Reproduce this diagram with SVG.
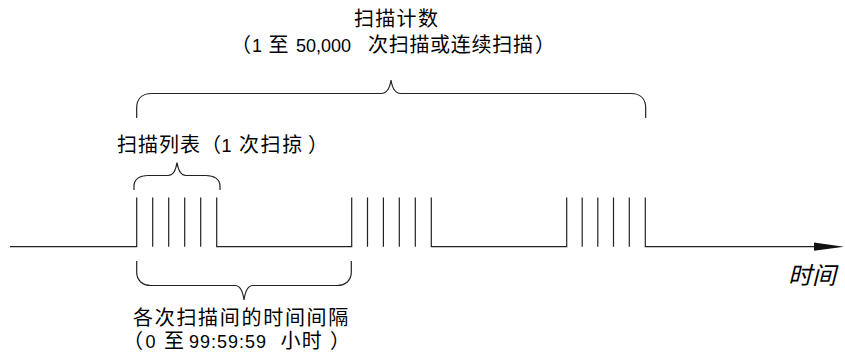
<svg xmlns="http://www.w3.org/2000/svg" width="845" height="362" viewBox="0 0 845 362">
<style>
  .ln { fill: none; stroke: #222; stroke-width: 1.2; }
  .t { font-family: "Liberation Sans", "Noto Sans CJK SC", sans-serif; font-size: 18px; fill: #000; }
  .c { font-family: "Noto Sans CJK SC", sans-serif; font-size: 20px; letter-spacing: 1.2px; }
  .it { font-family: "Noto Sans CJK SC", sans-serif; font-size: 24px; font-style: italic; fill: #000; }
</style>
<rect width="845" height="362" fill="#fff"/>

<g id="connectors">
  <path id="waveform" class="ln" d="M10,246.7 H136.7 V197.5
    M152.7,197.5 V246.7 M168.7,197.5 V246.7 M184.7,197.5 V246.7 M200.7,197.5 V246.7
    M216.7,197.5 V246.7 H351.7 V197.5
    M367.5,197.5 V246.7 M383.4,197.5 V246.7 M399.3,197.5 V246.7 M415.3,197.5 V246.7
    M431.3,197.5 V246.7 H566.7 V197.5
    M582.2,197.5 V246.7 M597.8,197.5 V246.7 M613.5,197.5 V246.7 M629.3,197.5 V246.7
    M645.3,197.5 V246.7 H816"/>
  <polygon id="arrowhead" points="814,242.6 844,246.7 814,250.8" fill="#111"/>
</g>

<g id="scan-count">
  <path class="ln" d="M136.7,118 V108 C136.7,99 142,93.5 151.7,93.5 H381 Q389,93.5 391,80 Q393,93.5 401,93.5 H630.7 C640.4,93.5 645.7,99 645.7,108 V118"/>
  <text class="t" y="26"><tspan class="c" x="354" style="letter-spacing:1.3px">扫描计数</tspan></text>
  <text class="t" y="51.5"><tspan class="c" x="231">（</tspan><tspan x="252">1</tspan><tspan class="c" x="268.5">至</tspan><tspan x="296">50,000</tspan><tspan class="c" x="368" style="letter-spacing:0.7px">次扫描或连续扫描</tspan><tspan class="c" x="535">）</tspan></text>
</g>

<g id="scan-list">
  <path class="ln" d="M134,190 V186 C134,179 140,175.5 148,175.5 H168 Q175,175.5 177,162.5 Q179,175.5 186,175.5 H206 C214,175.5 220,179 220,186 V190"/>
  <text class="t" y="151.5"><tspan class="c" x="117" style="letter-spacing:1px">扫描列表</tspan><tspan class="c" x="201" style="letter-spacing:0">（</tspan><tspan x="221.5">1</tspan><tspan class="c" x="239" style="letter-spacing:1.6px">次扫掠</tspan><tspan class="c" x="308">）</tspan></text>
</g>

<g id="interval">
  <path class="ln" d="M136.7,261 V272 C136.7,280 142,285.5 151,285.5 H235 Q242,285.5 244,300 Q246,285.5 253,285.5 H337 C346,285.5 351.3,280 351.3,272 V261"/>
  <text class="t" y="324.5"><tspan class="c" x="133" style="letter-spacing:1.7px">各次扫描间的时间间隔</tspan></text>
  <text class="t" y="347.5"><tspan class="c" x="123">（</tspan><tspan x="145.5">0</tspan><tspan class="c" x="164">至</tspan><tspan x="189" style="letter-spacing:1px">99:59:59</tspan><tspan class="c" x="280.5">小时</tspan><tspan class="c" x="330">）</tspan></text>
</g>

<g id="time-label">
  <text class="it" x="788" y="284">时间</text>
</g>
</svg>
